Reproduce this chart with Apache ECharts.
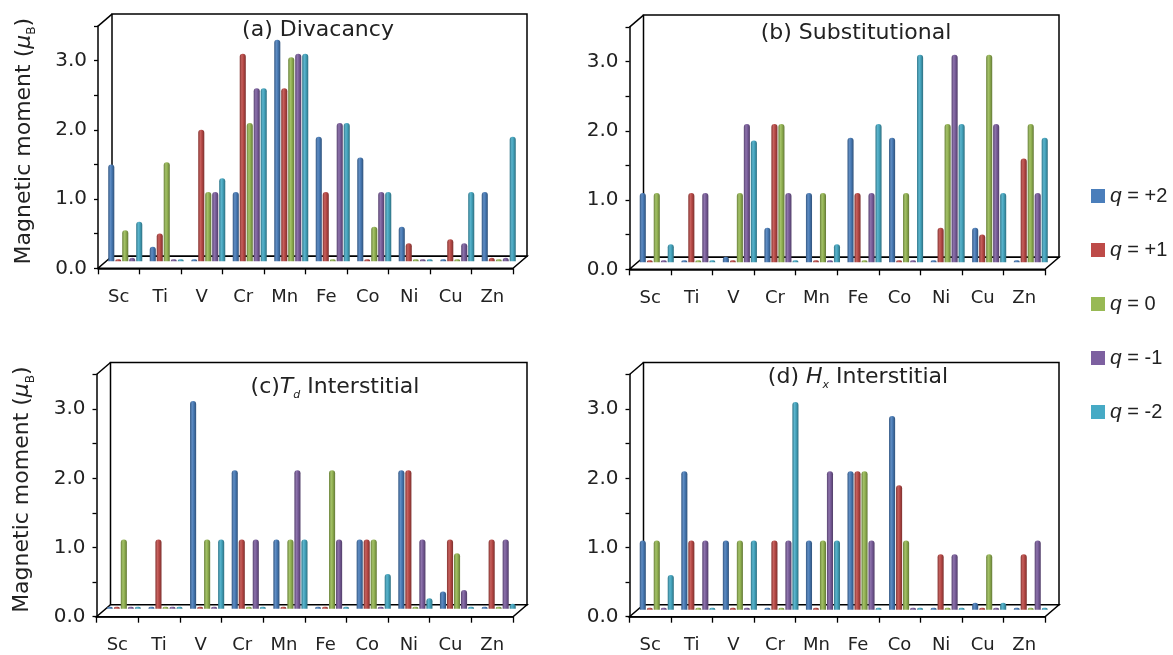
<!DOCTYPE html>
<html><head><meta charset="utf-8">
<script src="https://cdn.jsdelivr.net/npm/echarts@6/dist/echarts.min.js"></script>
<style>html,body{margin:0;padding:0;background:#fff}#c{width:1173px;height:655px}</style>
</head><body><div id="c"></div>
<script>
// ---- data ----
const categories = ['Sc','Ti','V','Cr','Mn','Fe','Co','Ni','Cu','Zn'];
const seriesNames = ['q = +2','q = +1','q = 0','q = -1','q = -2'];
const seriesLabels = ['+2','+1','0','-1','-2'];
const yTickLabels = ['0.0','1.0','2.0','3.0'];

// (a) Divacancy
const divQp2 = [1.4, 0.21, 0, 1.0, 3.2, 1.8, 1.5, 0.5, 0, 1.0];
const divQp1 = [0, 0.4, 1.9, 3.0, 2.5, 1.0, 0, 0.26, 0.32, 0.05];
const divQ0  = [0.45, 1.43, 1.0, 2.0, 2.95, 0, 0.5, 0, 0, 0];
const divQm1 = [0.05, 0, 1.0, 2.5, 3.0, 2.0, 1.0, 0, 0.26, 0.05];
const divQm2 = [0.57, 0, 1.2, 2.5, 3.0, 2.0, 1.0, 0, 1.0, 1.8];
// (b) Substitutional
const subQp2 = [1.0, 0, 0.08, 0.5, 1.0, 1.8, 1.8, 0, 0.5, 0];
const subQp1 = [0, 1.0, 0, 2.0, 0, 1.0, 0, 0.5, 0.4, 1.5];
const subQ0  = [1.0, 0, 1.0, 2.0, 1.0, 0, 1.0, 2.0, 3.0, 2.0];
const subQm1 = [0, 1.0, 2.0, 1.0, 0, 1.0, 0, 3.0, 2.0, 1.0];
const subQm2 = [0.26, 0, 1.76, 0, 0.26, 2.0, 3.0, 2.0, 1.0, 1.8];
// (c) Td interstitial
const tdQp2 = [0, 0, 3.0, 2.0, 1.0, 0, 1.0, 2.0, 0.25, 0];
const tdQp1 = [0, 1.0, 0, 1.0, 0, 0, 1.0, 2.0, 1.0, 1.0];
const tdQ0  = [1.0, 0, 1.0, 0, 1.0, 2.0, 1.0, 0, 0.8, 0];
const tdQm1 = [0, 0, 0, 1.0, 2.0, 1.0, 0, 1.0, 0.27, 1.0];
const tdQm2 = [0, 0, 1.0, 0, 1.0, 0, 0.5, 0.15, 0, 0.07];
// (d) Hx interstitial
const hxQp2 = [1.0, 2.0, 1.0, 0, 1.0, 2.0, 2.8, 0, 0.1, 0];
const hxQp1 = [0, 1.0, 0, 1.0, 0, 2.0, 1.8, 0.8, 0, 0.8];
const hxQ0  = [1.0, 0, 1.0, 0, 1.0, 2.0, 1.0, 0, 0.8, 0];
const hxQm1 = [0, 1.0, 0, 1.0, 2.0, 1.0, 0, 0.8, 0, 1.0];
const hxQm2 = [0.5, 0, 1.0, 3.0, 1.0, 0, 0, 0, 0.1, 0];

// ---- layout / style ----
const FONT = 'DejaVu Sans';
const U = 69.2;          // px per unit on the value axis
const YMAX = 3.5;
const DEPTH_X = 14, DEPTH_Y = 12;
const baseColors = ['#4a7ebb','#be4b48','#98b954','#7d60a0','#46aac5'];

const panels = [
  {x0:98,    y0:268.3, W:415,   bdx:6.5, bdy:7, tx:318, ty:30,  showName:true,
   title:'{n|(a) Divacancy}', data:[divQp2,divQp1,divQ0,divQm1,divQm2]},
  {x0:629.5, y0:269.3, W:415.5, bdx:6.5, bdy:7, tx:856, ty:33,  showName:false,
   title:'{n|(b) Substitutional}', data:[subQp2,subQp1,subQ0,subQm1,subQm2]},
  {x0:96.5,  y0:616.7, W:416.5, bdx:6.5, bdy:8, tx:335, ty:387, showName:true,
   title:'{n|(c)}{i|T}{s|d}{n| Interstitial}', data:[tdQp2,tdQp1,tdQ0,tdQm1,tdQm2]},
  {x0:629.5, y0:616.7, W:415.5, bdx:6.5, bdy:7, tx:858, ty:377, showName:false,
   title:'{n|(d) }{i|H}{s|x}{n| Interstitial}', data:[hxQp2,hxQp1,hxQ0,hxQm1,hxQm2]}
];

function shade(hex, f) {
  const n = parseInt(hex.slice(1), 16);
  let r = (n >> 16) & 255, g = (n >> 8) & 255, b = n & 255;
  const t = f < 0 ? 0 : 255, p = Math.abs(f);
  r = Math.round((t - r) * p + r); g = Math.round((t - g) * p + g); b = Math.round((t - b) * p + b);
  return 'rgb(' + r + ',' + g + ',' + b + ')';
}
function grad(hex) {
  return {type:'linear', x:0, y:0, x2:1, y2:0, colorStops:[
    {offset:0, color:shade(hex,-0.3)},
    {offset:0.35, color:shade(hex,0.12)},
    {offset:0.6, color:shade(hex,-0.05)},
    {offset:1, color:shade(hex,-0.35)}]};
}

const grid = [], xAxis = [], yAxis = [], series = [], graphic = [];
const richTitle = {
  n:{fontFamily:FONT, fontSize:22, color:'#222', lineHeight:28},
  i:{fontFamily:FONT, fontSize:22, color:'#222', fontStyle:'italic', lineHeight:28},
  s:{fontFamily:FONT, fontSize:11, color:'#222', fontStyle:'italic', verticalAlign:'bottom', lineHeight:28}
};

panels.forEach((p, k) => {
  const H = YMAX * U;
  const top = p.y0 - H;
  // back wall + floor + depth edges
  graphic.push({type:'rect', z:-10, shape:{x:p.x0+DEPTH_X, y:top-DEPTH_Y, width:p.W, height:H},
    style:{fill:'#fff', stroke:'#000', lineWidth:1.5}});
  graphic.push({type:'polygon', z:-9, shape:{points:[[p.x0,p.y0],[p.x0+p.W,p.y0],[p.x0+p.W+DEPTH_X,p.y0-DEPTH_Y],[p.x0+DEPTH_X,p.y0-DEPTH_Y]]},
    style:{fill:'#fff', stroke:'#000', lineWidth:1.5}});
  graphic.push({type:'line', z:-9, shape:{x1:p.x0, y1:top, x2:p.x0+DEPTH_X, y2:top-DEPTH_Y},
    style:{stroke:'#000', lineWidth:1.5}});
  graphic.push({type:'text', z:50, x:p.tx, y:p.ty,
    style:{text:p.title, rich:richTitle, align:'center', verticalAlign:'middle', fontFamily:FONT, fontSize:22, fill:'#222'}});

  // front axis grid
  grid.push({left:p.x0, top:top, width:p.W, height:H});
  // bar grid (mid depth)
  grid.push({left:p.x0+p.bdx, top:top-p.bdy, width:p.W, height:H});

  xAxis.push({type:'category', gridIndex:2*k, data:categories, boundaryGap:true, z:5,
    axisLine:{show:true, lineStyle:{color:'#000', width:1.5}},
    axisTick:{show:true, length:6, alignWithLabel:false, interval:0, lineStyle:{color:'#000', width:1.3}},
    axisLabel:{fontFamily:FONT, fontSize:18, color:'#222', margin:20, interval:0}});
  xAxis.push({type:'category', gridIndex:2*k+1, data:categories, show:false});

  const ya = {type:'value', gridIndex:2*k, min:0, max:YMAX, interval:0.5, z:5,
    axisLine:{show:true, lineStyle:{color:'#000', width:1.5}},
    axisTick:{show:true, length:4, lineStyle:{color:'#000', width:1.3}},
    splitLine:{show:false},
    axisLabel:{fontFamily:FONT, fontSize:20, color:'#222', margin:11,
      formatter:v => yTickLabels.indexOf(v.toFixed(1)) >= 0 ? v.toFixed(1) : ''}};
  if (p.showName) {
    ya.name = '{n|Magnetic moment (}{mu|μ}{sub|B}{n|)}';
    ya.nameLocation = 'middle';
    ya.nameGap = 60;
    ya.nameRotate = 90;
    ya.nameTextStyle = {fontFamily:FONT, fontSize:22, color:'#222', padding:[0,0,0,12], rich:{
      n:{fontFamily:FONT, fontSize:22, color:'#222', lineHeight:28},
      mu:{fontFamily:FONT, fontSize:22, color:'#222', fontStyle:'italic', lineHeight:28},
      sub:{fontFamily:FONT, fontSize:12, color:'#222', verticalAlign:'bottom', lineHeight:28}}};
  }
  yAxis.push(ya);
  yAxis.push({type:'value', gridIndex:2*k+1, min:0, max:YMAX, show:false, splitLine:{show:false}});

  p.data.forEach((arr, s) => {
    series.push({type:'bar', name:seriesNames[s], xAxisIndex:2*k+1, yAxisIndex:2*k+1,
      data:arr, barGap:'15%', barCategoryGap:'18%', barMinHeight:2, z:3, silent:true,
      itemStyle:{color:grad(baseColors[s]), borderRadius:[3,3,0,0]}});
  });
});

const chart = echarts.init(document.getElementById('c'), null, {renderer:'canvas'});
chart.setOption({
  animation:false,
  backgroundColor:'#fff',
  grid, xAxis, yAxis, series, graphic,
  legend:{orient:'vertical', left:1086, top:179, itemWidth:14, itemHeight:14, itemGap:30, icon:'rect',
    selectedMode:false,
    data:seriesNames.map((n,i)=>({name:n, itemStyle:{color:baseColors[i]}})),
    formatter:name => '{i|q}{t| = ' + seriesLabels[seriesNames.indexOf(name)] + '}',
    textStyle:{fontFamily:'Liberation Sans', fontSize:20, color:'#222', lineHeight:24, rich:{
      i:{fontFamily:'Liberation Sans', fontSize:21, fontStyle:'italic', color:'#222', lineHeight:24},
      t:{fontFamily:'Liberation Sans', fontSize:20, color:'#222', lineHeight:24}}}}
});
</script></body></html>
